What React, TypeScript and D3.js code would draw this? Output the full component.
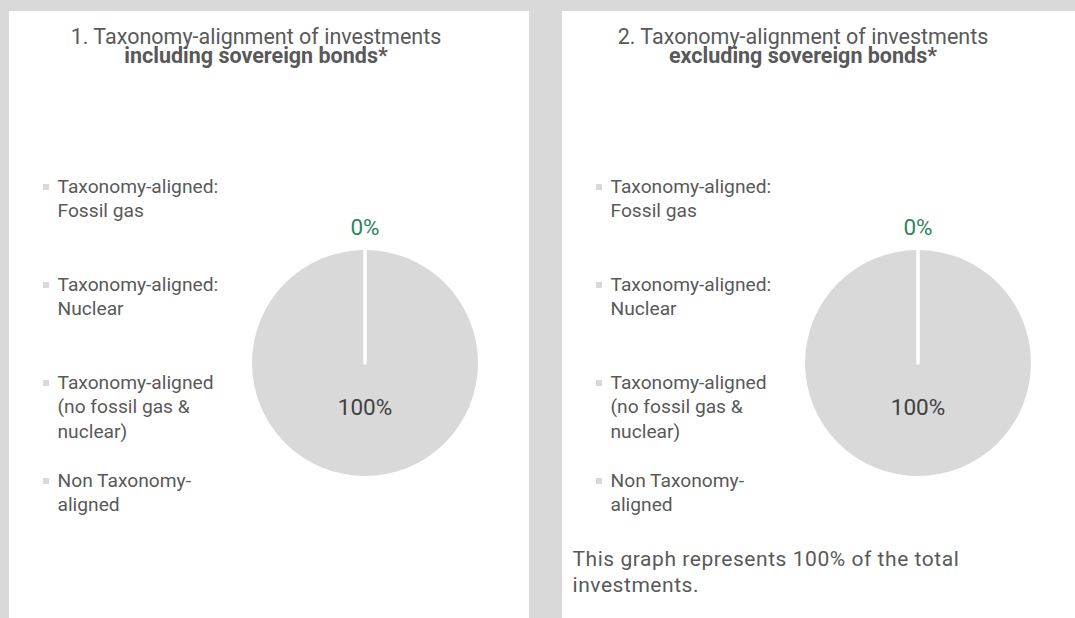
import React from "react";
import * as d3 from "d3";

const categories = [
  "Taxonomy-aligned: Fossil gas",
  "Taxonomy-aligned: Nuclear",
  "Taxonomy-aligned (no fossil gas & nuclear)",
  "Non Taxonomy-aligned",
];
const legendLines = [
  ["Taxonomy-aligned:", "Fossil gas"],
  ["Taxonomy-aligned:", "Nuclear"],
  ["Taxonomy-aligned", "(no fossil gas &", "nuclear)"],
  ["Non Taxonomy-", "aligned"],
];
const valuesIncluding = [0, 0, 0, 100];
const valuesExcluding = [0, 0, 0, 100];
const sliceColors = ["#d9d9d9", "#d9d9d9", "#d9d9d9", "#d9d9d9"];
const labelColors = ["#2f855a", "#2f855a", "#2f855a", "#404040"];
const panelTitles = [
  ["1. Taxonomy-alignment of investments", "including sovereign bonds*"],
  ["2. Taxonomy-alignment of investments", "excluding sovereign bonds*"],
];
const footnote = ["This graph represents 100% of the total", "investments."];

const FONT = "Roboto, 'Noto Sans', sans-serif";
const TEXT = "#595959";

type PanelProps = {
  x0: number;
  width: number;
  titleX: number;
  values: number[];
  title: string[];
  note?: string[];
};

function Panel({ x0, width, titleX, values, title, note }: PanelProps) {
  const r = 113;
  const cx = x0 + 356;
  const cy = 363;
  const pie = d3
    .pie<number>()
    .sort(null)
    .value((d) => d)
    .startAngle(0)
    .endAngle(2 * Math.PI);
  const arcs = pie(values);
  const arc = d3.arc<d3.PieArcDatum<number>>().innerRadius(0).outerRadius(r);
  const innerLabel = d3.arc<d3.PieArcDatum<number>>().innerRadius(0).outerRadius(88);
  const outerLabel = d3.arc<d3.PieArcDatum<number>>().innerRadius(r + 23).outerRadius(r + 23);
  const fmt = (v: number) => `${d3.format(".0f")(v)}%`;
  const shownZero = new Set<string>();
  // slice boundaries (radial separators)
  const boundaries = Array.from(new Set(arcs.map((a) => a.startAngle)));

  return (
    <g>
      <rect x={x0} y={11} width={width} height={618 - 11} fill="#ffffff" />
      <text x={titleX} y={44} textAnchor="middle" fontFamily={FONT} fontSize={21.5} fill={TEXT}>
        {title[0]}
      </text>
      <text x={titleX} y={63} textAnchor="middle" fontFamily={FONT} fontSize={21.5} fontWeight="bold" fill={TEXT}>
        {title[1]}
      </text>
      {legendLines.map((lines, i) => (
        <g key={categories[i]}>
          <rect x={x0 + 34} y={184 + i * 98} width={6} height={6} fill={sliceColors[i]} />
          {lines.map((ln, j) => (
            <text key={j} x={x0 + 48.5} y={193 + i * 98 + j * 24.3} fontFamily={FONT} fontSize={19.2} fill={TEXT}>
              {ln}
            </text>
          ))}
        </g>
      ))}
      <g transform={`translate(${cx},${cy})`}>
        {arcs.map((a, i) => (
          <path key={i} d={arc(a) || ""} fill={sliceColors[i]} />
        ))}
        {boundaries.map((ang, i) => (
          <line
            key={`b${i}`}
            x1={0}
            y1={0}
            x2={r * Math.sin(ang)}
            y2={-r * Math.cos(ang)}
            stroke="#ffffff"
            strokeWidth={3.5}
            strokeLinecap="round"
          />
        ))}
        {arcs.map((a, i) => {
          const isZero = a.endAngle - a.startAngle < 1e-6;
          const key = `${a.startAngle}`;
          if (isZero) {
            if (shownZero.has(key)) return null;
            shownZero.add(key);
          }
          const [lx, ly] = isZero ? outerLabel.centroid(a) : innerLabel.centroid(a);
          return (
            <text
              key={`l${i}`}
              x={lx}
              y={ly}
              dy="0.35em"
              textAnchor="middle"
              fontFamily={FONT}
              fontSize={22.5}
              fill={isZero ? labelColors[2] : labelColors[3]}
            >
              {fmt(values[i])}
            </text>
          );
        })}
      </g>
      {note &&
        note.map((ln, j) => (
          <text key={j} x={x0 + 10.5} y={566 + j * 25.5} fontFamily={FONT} fontSize={21} letterSpacing={0.55} fill={TEXT}>
            {ln}
          </text>
        ))}
    </g>
  );
}

export default function App() {
  return (
    <svg
      width={1075}
      height={618}
      style={{ position: "absolute", left: 0, top: 0, display: "block" }}
    >
      <rect x={0} y={0} width={1075} height={618} fill="#d9d9d9" />
      <Panel x0={9} width={520} titleX={256} values={valuesIncluding} title={panelTitles[0]} />
      <Panel x0={562} width={513} titleX={803} values={valuesExcluding} title={panelTitles[1]} note={footnote} />
    </svg>
  );
}
